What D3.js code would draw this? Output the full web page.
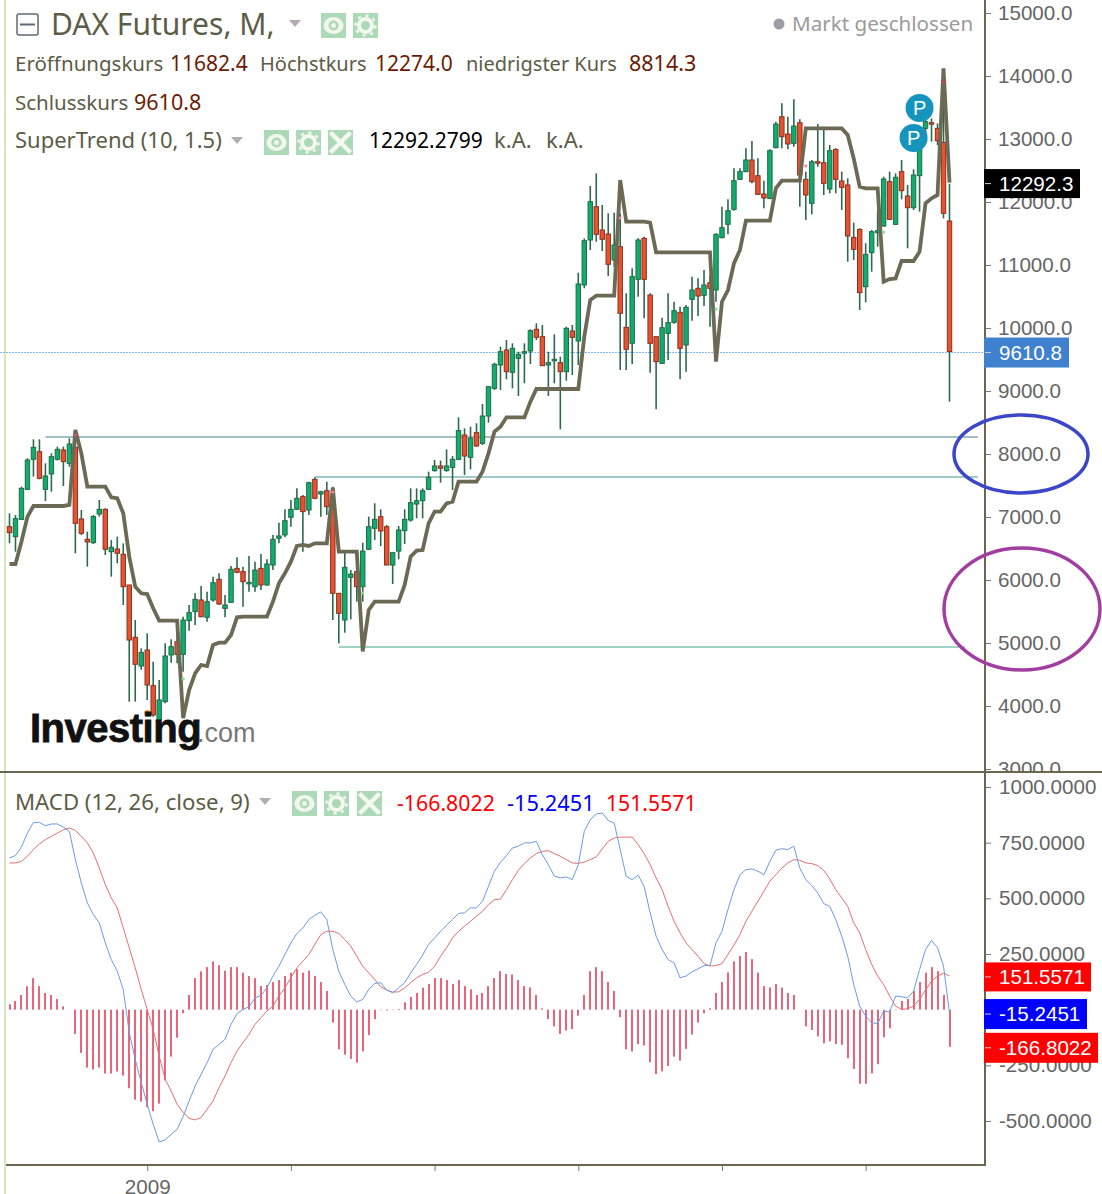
<!DOCTYPE html>
<html>
<head>
<meta charset="utf-8">
<script src="https://cdnjs.cloudflare.com/ajax/libs/d3/7.8.5/d3.min.js"></script>
<style>
  body { margin: 0; background: #fff; }
  svg { display: block; }
  .head { font-family: "Noto Sans", sans-serif; }
  .axis text { font-family: "Liberation Sans", Arial, sans-serif; font-size: 20.6px; fill: #666; }
</style>
</head>
<body>
<div class="chart"></div>
<script>
// monthly candles, Feb 2007 .. Mar 2020
var opens = [
  6831,6672,6947,7423,7900,8021,7423,7667,7900,8048,
  7836,8090,6953,6630,6577,7032,7106,6434,6476,6392,
  5905,5074,4619,4873,4307,3762,4053,4794,5005,4804,
  5339,5482,5667,5392,5667,5995,5534,5630,6169,6117,
  5931,5878,6169,5905,6222,6646,6699,6979,7106,7307,
  7095,7582,7349,7402,7254,5773,5349,6026,6116,5878,
  6471,6804,6989,6830,6222,6444,6767,6936,7190,7243,
  7423,7720,7794,7720,7772,7899,8286,7931,8323,8153,
  8587,9026,9397,9635,9280,9503,9592,9619,9963,9847,
  9397,9466,9434,9291,9937,9778,10667,11381,11910,11540,
  11476,11063,11275,9995,9741,10757,11407,10508,9847,9423,
  9899,10074,10233,9714,10439,10614,10503,10703,10587,11418,
  11630,11868,12344,12466,12651,12402,12111,12042,12846,13338,
  13063,12915,13243,12344,11963,12624,12608,12190,12820,12317,
  12254,11423,11550,10640,11180,11497,11603,12307,11630,12466,
  12079,11894,12402,13153,13243,13153,12931,11682.4
];
var closes = [
  6736,6958,7439,7889,8090,7598,7635,7942,8058,7863,
  8143,6884,6725,6588,6990,7106,6471,6503,6408,5878,
  5032,4646,4836,4318,3841,4080,4778,4926,4804,5349,
  5466,5677,5402,5640,5942,5603,5587,6154,6106,5958,
  5947,6143,5905,6238,6630,6683,6926,7106,7281,7069,
  7529,7281,7386,7148,5773,5455,6185,6079,5878,6444,
  6830,6947,6762,6222,6418,6778,6947,7211,7243,7402,
  7614,7794,7757,7794,7899,8355,7952,8233,8111,8587,
  9053,9407,9608,9291,9661,9566,9608,9942,9836,9386,
  9434,9487,9291,9979,9836,10683,11370,11989,11471,11392,
  10995,11302,10217,9646,10799,11381,10757,9741,9450,9989,
  10069,10259,9661,10312,10587,10492,10667,10614,11471,11577,
  11846,12323,12466,12651,12307,12106,12048,12799,13222,13021,
  12905,13190,12413,12095,12624,12608,12280,12799,12344,12217,
  11444,11233,10545,11153,11513,11529,12349,11709,12376,12164,
  11894,12413,13127,13259,13227,12958,11804,9610.8
];
var highs = [
  7042,7016,7466,7916,8217,8217,7836,7995,8101,8101,
  8233,8290,7095,6752,7016,7254,7122,6619,6672,6566,
  5905,5349,4900,5138,4688,4397,4979,5042,5323,5402,
  5587,5773,5889,5799,6037,6090,5746,6207,6344,6196,
  6365,6275,6397,6312,6699,6894,7106,7254,7439,7333,
  7545,7614,7402,7545,7466,5773,6434,6143,6407,6577,
  6989,7201,7106,6857,6418,6841,7106,7439,7439,7439,
  7704,7889,7879,8058,7950,8566,8391,8418,8471,8778,
  9060,9434,9688,9794,9741,9608,9741,9963,10058,10032,
  9608,9884,9529,10005,10032,10862,11407,12238,12439,11936,
  11804,11815,11804,10534,10931,11407,11434,10534,9847,10148,
  10534,10402,10323,10349,10799,10772,10905,10825,11487,11910,
  12026,12518,12518,12836,12952,12677,12323,12820,13259,13550,
  13338,13614,13296,12466,12651,13222,13180,12889,12836,12466,
  12360,11656,11566,11328,11540,11846,12386,12466,12439,12651,
  12254,12503,13150,13450,13312,13233,13850,12274
];
var lows = [
  6566,6434,6937,7413,7625,7582,7238,7386,7879,7476,
  7783,6408,6699,6196,6556,6990,6381,6037,6249,5587,
  4053,4053,4560,4080,3815,3735,4027,4672,4662,4529,
  5180,5270,5392,5323,5640,5587,5392,5625,6090,5561,
  5799,5799,5826,5894,6143,6566,6662,6831,7095,6434,
  7016,7265,6990,7016,5349,4979,5148,5360,5640,5640,
  6460,6619,6524,6222,5920,6312,6555,6910,6963,6963,
  7413,7704,7529,7704,7413,7889,7651,7741,8100,8127,
  8481,9000,9000,9169,9026,8905,9106,9413,9794,9381,
  8905,9106,8376,9148,9238,9397,10614,11222,11354,11206,
  10810,10958,9317,9317,9413,10481,10137,9275,8693,9413,
  9476,10050,9169,9291,10100,10174,10333,10005,10402,11407,
  11471,11846,12333,12455,12280,12095,11883,12026,12836,12836,
  12820,12862,11910,11698,11788,12545,12095,12122,12122,11857,
  11037,11063,10270,10391,10878,11275,11593,11698,11619,12026,
  11249,11857,11831,12968,12942,12889,11725,8814.3
];
var superTrend = [
  6238,6238,6593,6990,7159,7159,7159,7159,7159,7159,
  7175,8365,7995,7466,7466,7466,7466,7296,7281,7042,
  6355,5878,5773,5762,5535,5339,5339,5339,5339,3790,
  4238,4503,4635,4619,4953,4990,4990,5111,5392,5402,
  5402,5402,5402,5402,5640,5931,6090,6275,6524,6540,
  6524,6566,6566,6566,7450,6434,6434,6434,6434,4850,
  5508,5640,5640,5640,5640,5640,5905,6354,6450,6460,
  6883,7069,7069,7201,7227,7545,7545,7545,7545,7704,
  7994,8339,8418,8566,8566,8566,8566,8815,9016,9016,
  9016,9016,9016,9016,9016,9016,9846,10428,10497,10497,
  10497,10497,12333,11672,11672,11672,11672,11656,11185,11185,
  11185,11185,11185,11185,11185,11185,11185,11185,9450,10402,
  10587,11010,11222,11688,11688,11688,11688,11688,12201,12323,
  12323,12323,12323,13153,13153,13153,13153,13153,13153,13153,
  13047,12677,12228,12201,12201,12201,10719,10762,10772,11048,
  11048,11048,11196,11963,12042,12095,14106,12292
];
var macdLine = [
  681,692,731,793,841,841,826,834,834,820,
  801,674,569,480,427,390,300,225,173,91,
  -103,-223,-327,-425,-515,-594,-585,-560,-537,-480,
  -410,-343,-291,-238,-178,-156,-133,-66,-18,1,
  13,53,64,98,151,195,248,300,342,367,
  405,424,439,405,270,173,113,61,35,46,
  91,118,121,88,76,98,121,165,203,245,
  293,322,352,379,405,432,435,457,457,487,
  554,622,662,692,726,734,749,749,756,696,
  651,600,592,596,584,651,801,853,879,883,
  850,838,719,599,584,604,554,435,330,270,
  225,210,143,151,170,183,198,198,300,352,
  450,539,606,629,632,622,606,666,716,723,
  719,734,636,584,557,524,476,464,405,330,
  240,113,16,-29,-58,-63,-6,-11,61,58,
  53,83,180,270,311,278,196,-15.2451
];
var signalLine = [
  659,659,666,689,719,744,764,778,793,808,
  816,805,778,749,704,636,562,502,457,367,
  278,188,91,1,-89,-208,-313,-365,-425,-462,
  -488,-495,-485,-447,-410,-350,-298,-238,-186,-148,
  -111,-66,-36,-6,16,61,98,143,188,218,
  248,293,337,352,352,342,315,285,240,195,
  165,136,103,88,79,80,98,121,143,158,
  168,195,240,278,322,352,375,397,420,442,
  472,494,497,539,584,626,656,681,701,711,
  714,701,689,674,659,657,663,674,686,722,
  756,771,775,775,775,741,701,651,592,539,
  464,397,345,300,270,240,207,196,198,207,
  248,290,337,397,442,487,532,577,606,636,
  659,674,671,659,656,647,626,587,539,502,
  464,390,345,270,203,151,113,61,16,1,
  4,16,46,88,128,151,163,151.5571
];
var histogram = [
  24,39,66,105,142,106,75,66,48,15,
  0,-109,-194,-260,-269,-260,-287,-287,-278,-296,
  -353,-404,-413,-438,-456,-422,-318,-211,-126,-16,
  66,142,172,191,217,200,175,191,191,166,
  151,142,106,111,124,133,151,166,182,166,
  175,151,124,84,-58,-178,-202,-221,-238,-187,
  -114,-42,-2,-4,-2,3,33,57,75,99,
  115,142,142,133,115,133,106,91,66,75,
  106,142,173,160,158,133,106,100,66,6,
  -42,-75,-109,-94,-87,-27,66,173,191,173,
  124,84,-34,-178,-188,-155,-161,-236,-289,-277,
  -253,-211,-229,-176,-112,-58,-16,6,75,124,
  167,217,241,259,227,166,106,100,115,99,
  75,66,0,-75,-91,-120,-151,-142,-154,-158,
  -218,-266,-333,-333,-286,-245,-124,-84,-2,39,
  48,84,124,166,191,173,66,-166.8022
];

// support / resistance lines somebody drew on the chart
var levelPrices = [8254, 7619, 4921];
var levelStarts = [6, 51, 55];
var levelColors = ["#86a8b4", "#80b8b4", "#7fc4b0"];

// "P" bubbles
var pointIndex = [152, 151];
var pointPrice = [13476, 13000];

// tiny signal marks on the candles
var markIndex = [23, 29, 59, 11, 54, 102, 118, 133, 146, 156];
var markPrice = [3873, 4413, 5778, 8286, 7381, 11730, 10286, 12556, 11508, 13889];
var markColor = ["#f0a020", "#7fe08f", "#7fe08f", "#e0506a", "#f08aa0", "#f08aa0", "#7fe08f", "#f08aa0", "#7fe08f", "#e0405a"];

var priceTicks = [15000, 14000, 13000, 12000, 11000, 10000, 9000, 8000, 7000, 6000, 5000, 4000, 3000];
var macdTicks = [1000, 750, 500, 250, -250, -500];
var yearTickIndex = [23, 47, 71, 95, 119, 143];

var svgWidth = 1102;
var svgHeight = 1194;
var axisX = 985;
var splitY = 772;
var bottomY = 1165;

var svg = d3.select(".chart").append("svg")
  .attr("width", svgWidth)
  .attr("height", svgHeight);

svg.append("rect").attr("width", svgWidth).attr("height", svgHeight).attr("fill", "#fff");

var defs = svg.append("defs");
defs.append("clipPath").attr("id", "topClip").append("rect")
  .attr("x", 0).attr("y", 0).attr("width", svgWidth).attr("height", splitY);

var x = d3.scaleLinear().domain([0, 157]).range([9.5, 949.5]);
var yPrice = d3.scaleLinear().domain([3000, 15000]).range([768, 12]);
var yMacd = d3.scaleLinear().domain([-500, 1000]).range([1121, 787]);

var months = d3.range(opens.length);

// left edge
svg.append("line").attr("x1", 5).attr("x2", 5).attr("y1", 0).attr("y2", svgHeight)
  .attr("stroke", "#d8e6c0").attr("stroke-width", 2);

// top panel
var topPanel = svg.append("g").attr("clip-path", "url(#topClip)");

levelPrices.forEach(function (p, i) {
  topPanel.append("line")
    .attr("x1", x(levelStarts[i]))
    .attr("x2", i === 2 ? 965 : 978)
    .attr("y1", yPrice(p))
    .attr("y2", yPrice(p))
    .attr("stroke", levelColors[i])
    .attr("stroke-width", 1.5);
});

topPanel.append("line")
  .attr("x1", 0).attr("x2", axisX)
  .attr("y1", Math.round(yPrice(closes[157])) + 0.5).attr("y2", Math.round(yPrice(closes[157])) + 0.5)
  .attr("stroke", "#7fb9f2").attr("stroke-width", 1).attr("stroke-dasharray", "2 1");

// candles
var candle = topPanel.selectAll("g.candle").data(months).enter().append("g").attr("class", "candle");
candle.append("line")
  .attr("x1", function (d) { return x(d); })
  .attr("x2", function (d) { return x(d); })
  .attr("y1", function (d) { return yPrice(highs[d]); })
  .attr("y2", function (d) { return yPrice(lows[d]); })
  .attr("stroke", "#2d6a4c")
  .attr("stroke-width", 1.6);
candle.append("rect")
  .attr("x", function (d) { return x(d) - 2.2; })
  .attr("width", 4.4)
  .attr("y", function (d) { return yPrice(Math.max(opens[d], closes[d])); })
  .attr("height", function (d) { return Math.max(1.5, Math.abs(yPrice(opens[d]) - yPrice(closes[d]))); })
  .attr("fill", function (d) { return closes[d] >= opens[d] ? "#0fae6c" : "#e8532f"; })
  .attr("stroke", function (d) { return closes[d] >= opens[d] ? "#1f6b48" : "#8a3020"; })
  .attr("stroke-width", 1);

// SuperTrend
var stLine = d3.line().x(function (d, i) { return x(i); }).y(function (d) { return yPrice(d); });
topPanel.append("path")
  .attr("d", stLine(superTrend))
  .attr("fill", "none")
  .attr("stroke", "#6c6955")
  .attr("stroke-width", 3.8)
  .attr("stroke-linejoin", "miter")
  .attr("stroke-miterlimit", 6);

markIndex.forEach(function (m, i) {
  topPanel.append("circle")
    .attr("cx", x(m)).attr("cy", yPrice(markPrice[i])).attr("r", i === 0 ? 3 : 1.6)
    .attr("fill", markColor[i]);
});

pointIndex.forEach(function (m, i) {
  topPanel.append("circle")
    .attr("cx", x(m)).attr("cy", yPrice(pointPrice[i])).attr("r", 14)
    .attr("fill", "#1595bd");
  topPanel.append("text")
    .attr("x", x(m)).attr("y", yPrice(pointPrice[i]) + 7)
    .attr("text-anchor", "middle")
    .attr("font-family", "Liberation Sans, Arial, sans-serif")
    .attr("font-size", 20)
    .attr("fill", "#fff")
    .text("P");
});

// watermark
topPanel.append("text").attr("x", 30).attr("y", 742)
  .attr("font-family", "Liberation Sans, Arial, sans-serif")
  .attr("font-weight", "bold").attr("font-size", 40).attr("letter-spacing", -0.5)
  .attr("fill", "#111").attr("stroke", "#111").attr("stroke-width", 0.8)
  .text("Investing");
topPanel.append("text").attr("x", 197).attr("y", 742)
  .attr("font-family", "Liberation Sans, Arial, sans-serif")
  .attr("font-size", 27)
  .attr("fill", "#777")
  .text(".com");

// price axis
var priceAxis = d3.axisRight(yPrice)
  .tickValues(priceTicks)
  .tickFormat(function (d) { return d.toFixed(1); })
  .tickSize(6)
  .tickPadding(7);
topPanel.append("g").attr("class", "axis").attr("transform", "translate(" + axisX + ",1)").call(priceAxis)
  .call(function (g) { g.select(".domain").remove(); })
  .call(function (g) { g.selectAll(".tick line").attr("stroke", "#777"); });

// MACD panel
var histBars = svg.append("g");
histBars.selectAll("rect").data(histogram).enter().append("rect")
  .attr("x", function (d, i) { return Math.round(x(i)) - 1; })
  .attr("width", 2)
  .attr("y", function (d) { return yMacd(Math.max(d, 0)); })
  .attr("height", function (d) { return Math.abs(yMacd(d) - yMacd(0)); })
  .attr("fill", "#e9667a");

var macdPath = d3.line().x(function (d, i) { return x(i); }).y(function (d) { return yMacd(d); });
svg.append("path").attr("d", macdPath(signalLine)).attr("fill", "none").attr("stroke", "#e2706f").attr("stroke-width", 1);
svg.append("path").attr("d", macdPath(macdLine)).attr("fill", "none").attr("stroke", "#6a9be4").attr("stroke-width", 1);

var macdAxis = d3.axisRight(yMacd)
  .tickValues(macdTicks)
  .tickFormat(function (d) { return d.toFixed(4); })
  .tickSize(6)
  .tickPadding(8);
svg.append("g").attr("class", "axis").attr("transform", "translate(" + axisX + ",0)").call(macdAxis)
  .call(function (g) { g.select(".domain").remove(); })
  .call(function (g) { g.selectAll(".tick line").attr("stroke", "#777"); });

// time axis, only the first tick carries a label in the picture
var timeAxis = d3.axisBottom(x)
  .tickValues(yearTickIndex)
  .tickFormat(function (d) { return d === 23 ? "2009" : ""; })
  .tickSize(6)
  .tickPadding(8);
svg.append("g").attr("class", "axis").attr("transform", "translate(0," + bottomY + ")").call(timeAxis)
  .call(function (g) { g.select(".domain").remove(); })
  .call(function (g) { g.selectAll(".tick line").attr("stroke", "#777"); });

// frame
var frameColor = "#6b6650";
svg.append("line").attr("x1", axisX).attr("x2", axisX).attr("y1", 0).attr("y2", bottomY + 1).attr("stroke", frameColor).attr("stroke-width", 2);
svg.append("line").attr("x1", 0).attr("x2", svgWidth).attr("y1", splitY).attr("y2", splitY).attr("stroke", frameColor).attr("stroke-width", 2);
svg.append("line").attr("x1", 6).attr("x2", axisX).attr("y1", bottomY).attr("y2", bottomY).attr("stroke", frameColor).attr("stroke-width", 2);

// value boxes on the right
function valueBox(yVal, width, height, fill, label) {
  var g = svg.append("g");
  g.append("rect").attr("x", axisX - 1).attr("y", yVal - height / 2 + 1).attr("width", width).attr("height", height).attr("fill", fill);
  g.append("line").attr("x1", axisX).attr("x2", axisX + 6).attr("y1", yVal + 1).attr("y2", yVal + 1).attr("stroke", "#ccc");
  g.append("text").attr("x", axisX + 14).attr("y", yVal + 8)
    .attr("font-family", "Liberation Sans, Arial, sans-serif").attr("font-size", 20.6).attr("fill", "#fff")
    .text(label);
}
valueBox(yPrice(12292.3), 96, 29, "#000", "12292.3");
valueBox(yPrice(closes[157]), 85, 30, "#3f80cf", "9610.8");
valueBox(yMacd(151.5571), 107, 29, "#ff0000", "151.5571");
valueBox(yMacd(-15.2451), 103, 30, "#0000ff", "-15.2451");
valueBox(yMacd(-166.8022), 114, 30, "#ff0000", "-166.8022");

// legend text
var labelColor = "#5d5c46";
var valueColor = "#6b1c04";
function legend(xPos, yPos, size, color, txt) {
  svg.append("text").attr("class", "head")
    .attr("x", xPos).attr("y", yPos)
    .attr("font-size", size).attr("fill", color)
    .text(txt);
}
function triangle(cx, cy) {
  svg.append("path")
    .attr("d", "M" + (cx - 6) + "," + (cy - 3) + "L" + (cx + 6) + "," + (cy - 3) + "L" + cx + "," + (cy + 4) + "Z")
    .attr("fill", "#b4acb4");
}
function icon(xPos, yPos, kind) {
  var s = 25;
  var cx = xPos + s / 2, cy = yPos + s / 2;
  svg.append("rect").attr("x", xPos).attr("y", yPos).attr("width", s).attr("height", s).attr("fill", "#acd9b6");
  if (kind === "eye") {
    svg.append("ellipse").attr("cx", cx).attr("cy", cy).attr("rx", 10).attr("ry", 8.5).attr("fill", "#f2f6ee");
    svg.append("circle").attr("cx", cx).attr("cy", cy).attr("r", 5).attr("fill", "#acd9b6");
    svg.append("circle").attr("cx", cx).attr("cy", cy).attr("r", 2.5).attr("fill", "#f2f6ee");
  } else if (kind === "gear") {
    svg.append("circle").attr("cx", cx).attr("cy", cy).attr("r", 6.5).attr("fill", "none").attr("stroke", "#f4f8f0").attr("stroke-width", 4);
    svg.append("circle").attr("cx", cx).attr("cy", cy).attr("r", 10).attr("fill", "none").attr("stroke", "#f4f8f0").attr("stroke-width", 2.5).attr("stroke-dasharray", "3 4.8");
  } else {
    svg.append("path").attr("d", "M" + (cx - 10) + "," + (cy - 10) + "L" + (cx + 10) + "," + (cy + 10) + "M" + (cx + 10) + "," + (cy - 10) + "L" + (cx - 10) + "," + (cy + 10))
      .attr("stroke", "#f4f8f0").attr("stroke-width", 4.5);
  }
}

svg.append("rect").attr("x", 17).attr("y", 14).attr("width", 21).attr("height", 21).attr("rx", 2)
  .attr("fill", "#fff").attr("stroke", "#5f6a78").attr("stroke-width", 1.5);
svg.append("line").attr("x1", 20).attr("x2", 35).attr("y1", 24.5).attr("y2", 24.5).attr("stroke", "#5f6a78").attr("stroke-width", 2);
legend(51, 35, 30, labelColor, "DAX Futures, M,");
triangle(295, 23);
icon(321, 13, "eye");
icon(353, 13, "gear");

svg.append("circle").attr("cx", 779).attr("cy", 24).attr("r", 5.5).attr("fill", "#a09aa8");
legend(792, 31, 20.6, "#9b9b9b", "Markt geschlossen");

legend(15, 71, 20.5, labelColor, "Eröffnungskurs");
legend(170, 71, 21, valueColor, "11682.4");
legend(260, 71, 20, labelColor, "Höchstkurs");
legend(375, 71, 21, valueColor, "12274.0");
legend(466, 71, 20, labelColor, "niedrigster Kurs");
legend(629, 71, 21.5, valueColor, "8814.3");
legend(15, 110, 20.5, labelColor, "Schlusskurs");
legend(134, 110, 21.5, valueColor, "9610.8");

legend(15, 148, 22, labelColor, "SuperTrend (10, 1.5)");
triangle(237, 140);
icon(264, 130, "eye");
icon(296, 130, "gear");
icon(328, 130, "x");
legend(369, 148, 21, "#000", "12292.2799");
legend(494, 148, 22, labelColor, "k.A.");
legend(546, 148, 22, labelColor, "k.A.");

legend(15, 810, 22.2, labelColor, "MACD (12, 26, close, 9)");
triangle(265, 801);
icon(292, 791, "eye");
icon(324, 791, "gear");
icon(357, 791, "x");
legend(397, 811, 21.3, "#ff0000", "-166.8022");
legend(507, 811, 21.8, "#0000ff", "-15.2451");
legend(606, 811, 21.2, "#ff0000", "151.5571");

// the two hand drawn circles
svg.append("ellipse").attr("cx", 1021).attr("cy", 454).attr("rx", 67).attr("ry", 39)
  .attr("fill", "none").attr("stroke", "#3c46c8").attr("stroke-width", 3.5);
svg.append("ellipse").attr("cx", 1022).attr("cy", 609).attr("rx", 78).attr("ry", 61)
  .attr("fill", "none").attr("stroke", "#a23ea0").attr("stroke-width", 3.5);
</script>
</body>
</html>
